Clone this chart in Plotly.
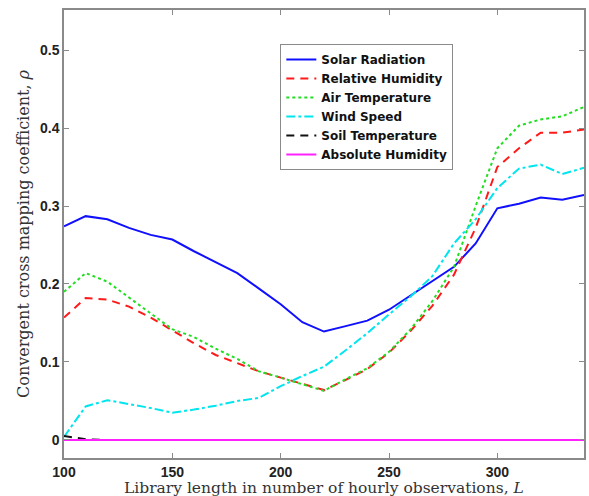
import plotly.graph_objects as go

L = [100, 110, 120, 130, 140, 150, 160, 170, 180, 190, 200, 210, 220, 230, 240,
     250, 260, 270, 280, 290, 300, 310, 320, 330, 340]

solar = [0.274, 0.287, 0.283, 0.272, 0.263, 0.257, 0.242, 0.228, 0.214, 0.194, 0.174, 0.151, 0.139,
         0.146, 0.153, 0.167, 0.185, 0.203, 0.222, 0.252, 0.297, 0.303, 0.311, 0.308, 0.314]
rel_hum = [0.157, 0.182, 0.180, 0.171, 0.157, 0.140, 0.124, 0.109, 0.098, 0.088, 0.080, 0.072, 0.064,
           0.077, 0.091, 0.112, 0.140, 0.172, 0.212, 0.272, 0.350, 0.374, 0.394, 0.394, 0.398]
air_temp = [0.190, 0.214, 0.203, 0.183, 0.162, 0.142, 0.132, 0.117, 0.104, 0.088, 0.080, 0.072, 0.063,
            0.078, 0.092, 0.113, 0.142, 0.178, 0.222, 0.300, 0.374, 0.403, 0.411, 0.415, 0.427]
wind = [0.004, 0.043, 0.051, 0.046, 0.041, 0.035, 0.039, 0.044, 0.050, 0.054, 0.069, 0.082, 0.094,
        0.115, 0.137, 0.161, 0.184, 0.210, 0.252, 0.283, 0.323, 0.348, 0.353, 0.341, 0.349]
soil_temp = [0.005, 0.001, 0, 0, 0, 0, 0, 0, 0, 0, 0, 0, 0,
             0, 0, 0, 0, 0, 0, 0, 0, 0, 0, 0, 0]
abs_hum = [0] * 25

x_title = "Library length in number of hourly observations, <i>L</i>"
y_title = "Convergent cross mapping coefficient, <i>ρ</i>"

series = [
    ("Solar Radiation", solar, "#1010ff", "solid"),
    ("Relative Humidity", rel_hum, "#ff1a1a", "8px,6px"),
    ("Air Temperature", air_temp, "#22dd22", "dot"),
    ("Wind Speed", wind, "#00e5ee", "dashdot"),
    ("Soil Temperature", soil_temp, "#111111", "8px,6px"),
    ("Absolute Humidity", abs_hum, "#ff22ff", "solid"),
]

fig = go.Figure()
for name, y, color, dash in series:
    fig.add_trace(go.Scatter(x=L, y=y, mode="lines", name=name,
                             line=dict(color=color, width=2, dash=dash)))

axis_common = dict(
    showline=True, linecolor="#8a8a8a", linewidth=1.5, mirror="ticks",
    ticks="inside", ticklen=5, tickcolor="#8a8a8a", showgrid=False, zeroline=False,
    tickfont=dict(family="Liberation Sans, Arial", size=14, color="#222222", weight="bold"),
)

title_font = dict(family="DejaVu Serif, Liberation Serif", size=16, color="#333333")

fig.update_xaxes(range=[100, 340], tickvals=[100, 150, 200, 250, 300], **axis_common)
fig.update_yaxes(range=[-0.0231, 0.5513], tickvals=[0, 0.1, 0.2, 0.3, 0.4, 0.5],
                 ticktext=["0", "0.1", "0.2", "0.3", "0.4", "0.5"],
                 title=dict(text=y_title, font=title_font, standoff=6),
                 **axis_common)

fig.add_annotation(text=x_title, xref="paper", yref="paper", x=0.5, y=-0.068,
                   xanchor="center", yanchor="middle", showarrow=False,
                   font=dict(family="DejaVu Serif, Liberation Serif", size=15.5, color="#333333"))

fig.update_layout(
    width=589, height=496,
    margin=dict(l=64, r=3, t=10, b=38),
    paper_bgcolor="white", plot_bgcolor="white",
    legend=dict(x=0.416, y=0.924, xanchor="left", yanchor="top",
                bgcolor="white", bordercolor="#8a8a8a", borderwidth=1,
                font=dict(family="DejaVu Sans, Liberation Sans", size=12, color="#111111", weight="bold"),
                tracegroupgap=0, itemwidth=30),
    showlegend=True,
)

fig.write_html("out.html")
